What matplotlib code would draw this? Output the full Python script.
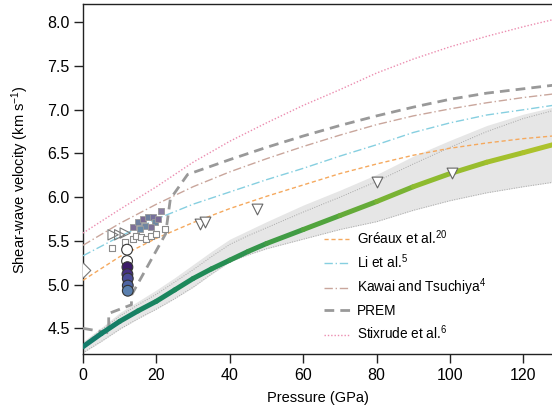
import numpy as np
import matplotlib
matplotlib.use('Agg')
import matplotlib.pyplot as plt
from matplotlib.collections import LineCollection
from matplotlib.colors import LinearSegmentedColormap

plt.rcParams['font.family'] = ['Liberation Sans', 'DejaVu Sans']
plt.rcParams['mathtext.fontset'] = 'custom'
plt.rcParams['mathtext.rm'] = 'Liberation Sans'
plt.rcParams['mathtext.it'] = 'Liberation Sans'

# reference velocity models (pressure in GPa, Vs in km/s)
p_ref = [0, 10, 20, 30, 40, 50, 60, 70, 80, 90, 100, 110, 120, 128]
v_greaux = [5.05, 5.32, 5.53, 5.71, 5.87, 6.01, 6.14, 6.27, 6.38, 6.48, 6.56, 6.62, 6.67, 6.70]
v_li = [5.33, 5.55, 5.75, 5.92, 6.06, 6.20, 6.33, 6.47, 6.60, 6.74, 6.85, 6.94, 7.00, 7.05]
v_kawai = [5.45, 5.70, 5.92, 6.12, 6.29, 6.44, 6.58, 6.71, 6.83, 6.93, 7.01, 7.08, 7.14, 7.18]
v_stix = [5.59, 5.86, 6.12, 6.40, 6.64, 6.85, 7.05, 7.23, 7.42, 7.58, 7.72, 7.84, 7.95, 8.03]

p_prem = [0, 7.0, 7.0, 13.2, 13.2, 22.5, 23.8, 28.5, 40, 50, 60, 70, 80, 90, 100, 110, 120, 128]
v_prem = [4.50, 4.45, 4.67, 4.77, 4.88, 5.58, 5.98, 6.26, 6.43, 6.57, 6.70, 6.82, 6.93, 7.03, 7.12, 7.19, 7.24, 7.28]

# this study: model curve and uncertainty band
p_mod = [0, 5, 10, 15, 20, 25, 30, 35, 40, 45, 50, 60, 70, 80, 90, 100, 110, 120, 128]
v_mod = [4.29, 4.44, 4.58, 4.70, 4.81, 4.94, 5.07, 5.18, 5.28, 5.38, 5.47, 5.63, 5.79, 5.95, 6.12, 6.27, 6.40, 6.51, 6.60]
v_up = [4.32, 4.48, 4.64, 4.77, 4.89, 5.03, 5.17, 5.32, 5.46, 5.56, 5.65, 5.83, 6.00, 6.18, 6.38, 6.57, 6.75, 6.90, 6.99]
v_fill_up = [4.35, 4.51, 4.68, 4.81, 4.94, 5.08, 5.23, 5.38, 5.52, 5.62, 5.72, 5.91, 6.08, 6.26, 6.47, 6.65, 6.82, 6.95, 7.03]
v_low = [4.22, 4.35, 4.49, 4.61, 4.72, 4.84, 4.97, 5.12, 5.26, 5.34, 5.41, 5.52, 5.63, 5.72, 5.85, 5.96, 6.05, 6.12, 6.17]

# experimental points
p_tri_down = [31.9, 33.2, 47.4, 80.1, 100.5]
v_tri_down = [5.69, 5.72, 5.86, 6.17, 6.28]
p_tri_right = [8.2, 10.0, 11.5]
v_tri_right = [5.57, 5.57, 5.59]
p_sq_open = [7.8, 11.4, 13.6, 14.5, 15.9, 17.2, 18.5, 19.9, 22.3]
v_sq_open = [5.42, 5.49, 5.52, 5.56, 5.55, 5.52, 5.56, 5.58, 5.64]
p_sq_fill = [13.6, 15.0, 16.4, 17.7, 19.0, 19.6, 20.4, 21.3, 16.9, 18.5, 15.5]
v_sq_fill = [5.66, 5.72, 5.75, 5.77, 5.77, 5.72, 5.75, 5.84, 5.67, 5.66, 5.64]
p_circ = [12.0, 12.0, 12.1, 12.1, 12.2, 12.2, 12.2]
v_circ = [5.40, 5.27, 5.20, 5.12, 5.07, 4.99, 4.93]
circ_colors = ['white', 'white', '#3b1a68', '#452f82', '#494a96', '#4e64a2', '#5a7fae']
sq_colors = ['#7c6d96', '#6f7f9f', '#7a6a94', '#6d7f9e', '#76709a', '#6b87a3', '#7a6c96', '#8a7fa3', '#6f86a2', '#7d7299', '#6a8aa6']

fig = plt.figure(figsize=(5.52, 4.12), dpi=100)
ax = fig.add_axes([0.1504, 0.140, 0.8496, 0.8495])

ax.fill_between(p_mod, v_low, v_fill_up, color='#e6e6e6', lw=0, zorder=1)
ax.plot(p_mod, v_up, ls=(0, (1, 1.5)), color='#a8a8a8', lw=0.7, zorder=2)
ax.plot(p_mod, v_low, ls=(0, (1, 1.5)), color='#a8a8a8', lw=0.7, zorder=2)

ax.plot(p_ref, v_greaux, ls=(0, (3, 2)), color='#f5a95e', lw=1.0, label='Gréaux et al.$^{20}$', zorder=3)
ax.plot(p_ref, v_li, ls=(0, (6, 2, 1, 2)), color='#86cfe0', lw=1.0, label='Li et al.$^{5}$', zorder=3)
ax.plot(p_ref, v_kawai, ls=(0, (6, 2, 1, 2)), color='#c9a69c', lw=1.0, label='Kawai and Tsuchiya$^{4}$', zorder=3)
ax.plot(p_prem, v_prem, ls=(0, (3.5, 2.2)), color='#999999', lw=2.0, label='PREM', zorder=3)
ax.plot(p_ref, v_stix, ls=(0, (1, 1.4)), color='#ec8db0', lw=1.0, label='Stixrude et al.$^{6}$', zorder=3)

# model curve coloured along pressure
pp = np.array(p_mod, dtype=float)
vv = np.array(v_mod, dtype=float)
pts = np.array([pp, vv]).T.reshape(-1, 1, 2)
segs = np.concatenate([pts[:-1], pts[1:]], axis=1)
cmap = LinearSegmentedColormap.from_list('grn', ['#127a6c', '#1e8a58', '#4ea33e', '#8fbb2f', '#b0c32c'])
lc = LineCollection(segs, cmap=cmap, linewidths=3.6, capstyle='round', joinstyle='round', zorder=4)
lc.set_array((pp[:-1] + pp[1:]) / 2)
lc.set_clim(0, 128)
ax.add_collection(lc)

ax.scatter(p_sq_open, v_sq_open, marker='s', s=20, facecolor='white', edgecolor='#8a8a8a', lw=0.8, zorder=5)
ax.scatter(p_sq_fill, v_sq_fill, marker='s', s=20, c=sq_colors, edgecolor='#9a9a9a', lw=0.6, zorder=5)
ax.scatter(p_tri_right, v_tri_right, marker='>', s=55, facecolor='none', edgecolor='#777777', lw=0.8, zorder=5)
ax.scatter(p_tri_down, v_tri_down, marker='v', s=60, facecolor='white', edgecolor='#666666', lw=0.8, zorder=5)
ax.scatter([0], [5.17], marker='D', s=55, facecolor='white', edgecolor='#777777', lw=0.8, zorder=5)
ax.scatter(p_circ, v_circ, marker='o', s=60, c=circ_colors, edgecolor='#333333', lw=0.8, zorder=6)

ax.set_xlim(0, 127.8)
ax.set_ylim(4.203, 8.206)
ax.set_xticks([0, 20, 40, 60, 80, 100, 120])
ax.set_yticks([4.5, 5.0, 5.5, 6.0, 6.5, 7.0, 7.5, 8.0])
ax.set_yticklabels(['4.5', '5.0', '5.5', '6.0', '6.5', '7.0', '7.5', '8.0'])
ax.tick_params(direction='out', length=6.5, width=1.0, labelsize=11.5, color='#222222', pad=3)
ax.spines['right'].set_visible(False)
for s in ['left', 'bottom', 'top']:
    ax.spines[s].set_linewidth(1.0)
    ax.spines[s].set_color('#222222')

ax.set_xlabel('Pressure (GPa)', fontsize=10.5, labelpad=6)
ax.set_ylabel('Shear-wave velocity (km s$^{-1}$)', fontsize=10.5)
ax.yaxis.set_label_coords(-0.110, 0.5)

ax.legend(loc='lower left', bbox_to_anchor=(0.499, 0.015), frameon=False, fontsize=9.8,
          handlelength=1.9, handletextpad=0.5, labelspacing=0.415, borderpad=0)

fig.savefig('out.png', dpi=100)
